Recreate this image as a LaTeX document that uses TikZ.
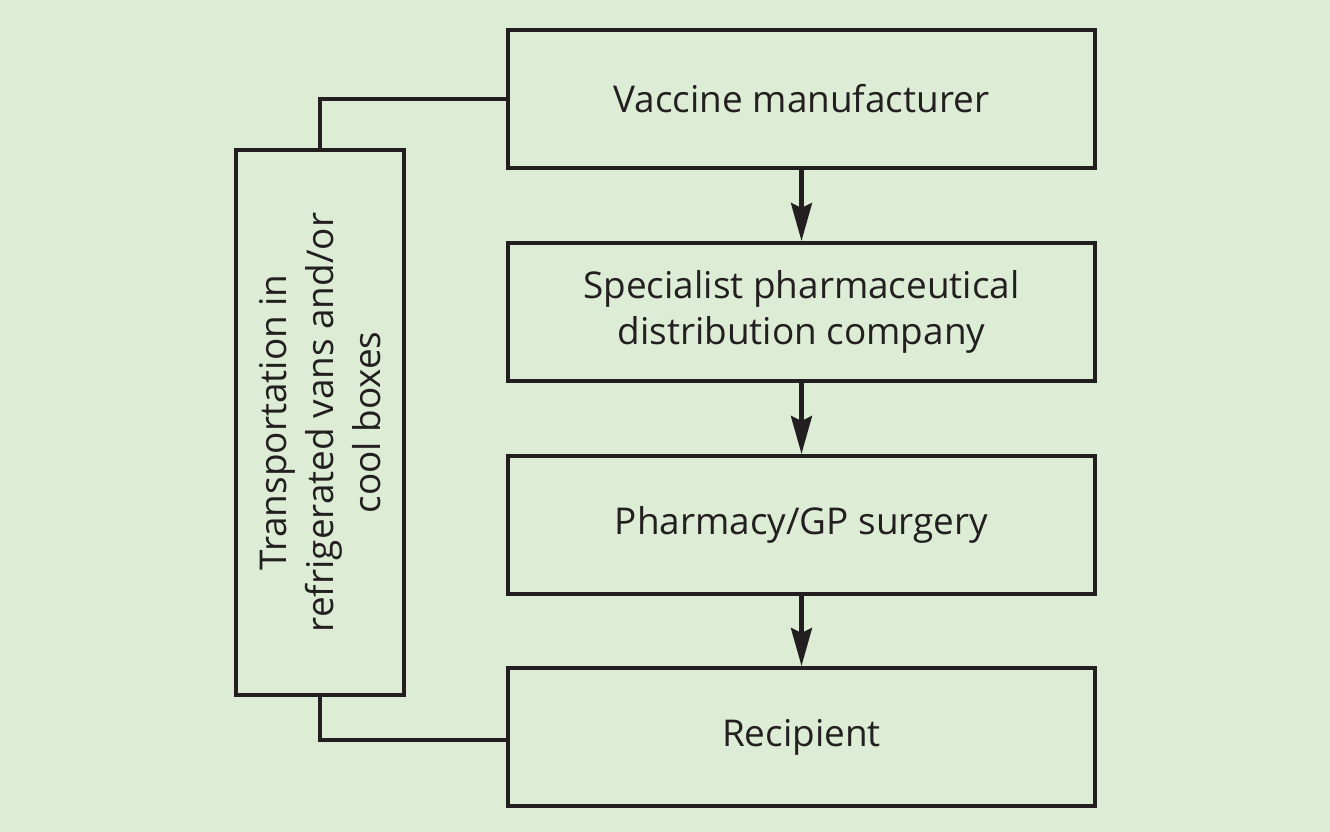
\documentclass[tikz,border=0pt]{standalone}
\usepackage{fontspec}
\setmainfont{Open Sans}
\usepackage{tikz}
\usetikzlibrary{arrows.meta, positioning, backgrounds}
\usepackage{xcolor}
\definecolor{bggreen}{HTML}{DDEDD5}
\definecolor{inkline}{HTML}{231F20}

\begin{document}
\begin{tikzpicture}[
    stagebox/.style={rectangle, draw=inkline, line width=1.15pt,
                     minimum width=5.87cm, minimum height=1.38cm,
                     align=center, font=\fontsize{10.5}{13}\selectfont,
                     text=inkline, inner sep=2pt},
    sidebox/.style={rectangle, draw=inkline, line width=1.15pt,
                    minimum width=5.45cm, minimum height=1.68cm,
                    align=center, font=\fontsize{10.5}{13.4}\selectfont,
                    text=inkline, rotate=90, inner sep=2pt},
    flow/.style={draw=inkline, line width=1.15pt,
                 -{Stealth[length=0.38cm, width=0.21cm, inset=0.05cm]}},
    link/.style={draw=inkline, line width=1.15pt},
]
  % ---- background ----
  \fill[bggreen] (0, 0) rectangle (13.3, 8.32);
  \useasboundingbox (0, 0) rectangle (13.3, 8.32);

  % ---- chain of stages ----
  \node[stagebox] (maker)     at (8.015, 7.33) {Vaccine manufacturer};
  \node[stagebox] (wholesale) at (8.015, 5.20) {Specialist pharmaceutical\\distribution company};
  \node[stagebox] (pharmacy)  at (8.015, 3.07) {Pharmacy/GP surgery};
  \node[stagebox] (recipient) at (8.015, 0.95) {Recipient};

  % ---- cold chain transport ----
  \node[sidebox] (transport) at (3.20, 4.095)
    {Transportation in\\refrigerated vans and/or\\cool boxes};

  % ---- arrows ----
  \draw[flow] (maker.south)     -- (wholesale.north);
  \draw[flow] (wholesale.south) -- (pharmacy.north);
  \draw[flow] (pharmacy.south)  -- (recipient.north);

  % ---- side links ----
  \draw[link] (transport.east) |- (maker.west);
  \draw[link] (transport.west) |- ([yshift=-0.03cm]recipient.west);
\end{tikzpicture}
\end{document}
